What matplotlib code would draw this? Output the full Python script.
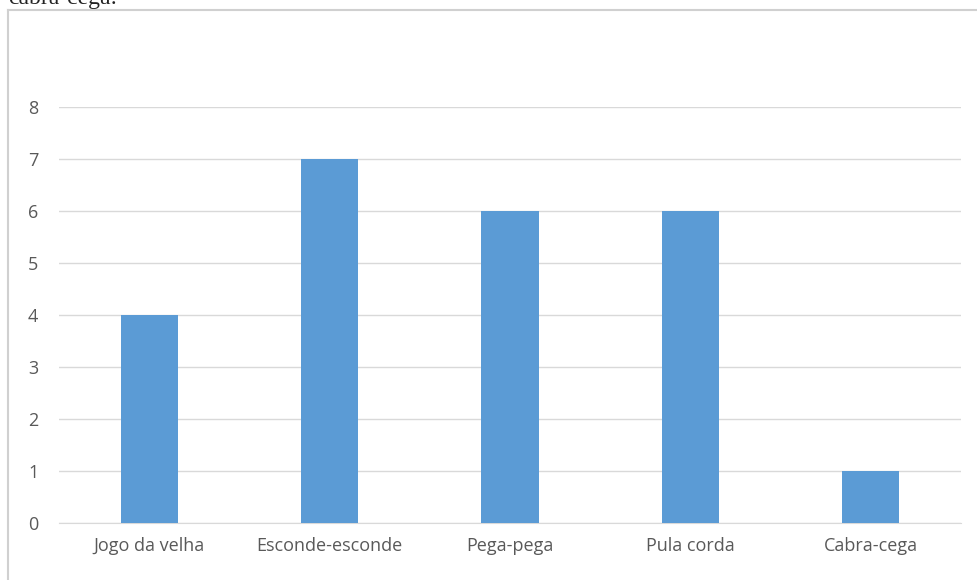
import matplotlib.pyplot as plt
from matplotlib.lines import Line2D

# Data
categories = ['Jogo da velha', 'Esconde-esconde', 'Pega-pega', 'Pula corda', 'Cabra-cega']
values = [4, 7, 6, 6, 1]
y_ticks = [0, 1, 2, 3, 4, 5, 6, 7, 8]

plt.rcParams['font.family'] = ['Open Sans', 'DejaVu Sans']

fig = plt.figure(figsize=(9.78, 5.8), dpi=100)
ax = fig.add_axes([59 / 978, 1 - 523 / 580, 902 / 978, 416 / 580])

x = range(len(categories))
ax.bar(x, values, width=0.316, color='#5B9BD5', zorder=3)

ax.set_xlim(-0.5, len(categories) - 0.5)
ax.set_ylim(0, 8)
ax.set_yticks(y_ticks)
ax.set_xticks(list(x))
ax.set_xticklabels(categories)
ax.grid(axis='y', color='#D9D9D9', linewidth=1, zorder=0)
for s in ['top', 'right', 'left']:
    ax.spines[s].set_visible(False)
ax.spines['bottom'].set_color('#D9D9D9')
ax.tick_params(axis='both', length=0, colors='#595959', labelsize=13)
ax.tick_params(axis='y', pad=15)
ax.tick_params(axis='x', pad=10)

# chart frame (left and top edges visible)
fig.add_artist(Line2D([8 / 978, 8 / 978], [0, 1 - 10 / 580], transform=fig.transFigure,
                      color='#D0D0D0', linewidth=1.5))
fig.add_artist(Line2D([8 / 978, 1], [1 - 10 / 580, 1 - 10 / 580], transform=fig.transFigure,
                      color='#D0D0D0', linewidth=1.5))

# text from the page above the chart, cut off by the image edge as in the original
fig.text(8 / 978, 1 - 4 / 580, 'cabra-cega:', family='Liberation Serif', fontsize=17,
         color='#222222', va='baseline', ha='left')

fig.savefig('out.png', dpi=100)
